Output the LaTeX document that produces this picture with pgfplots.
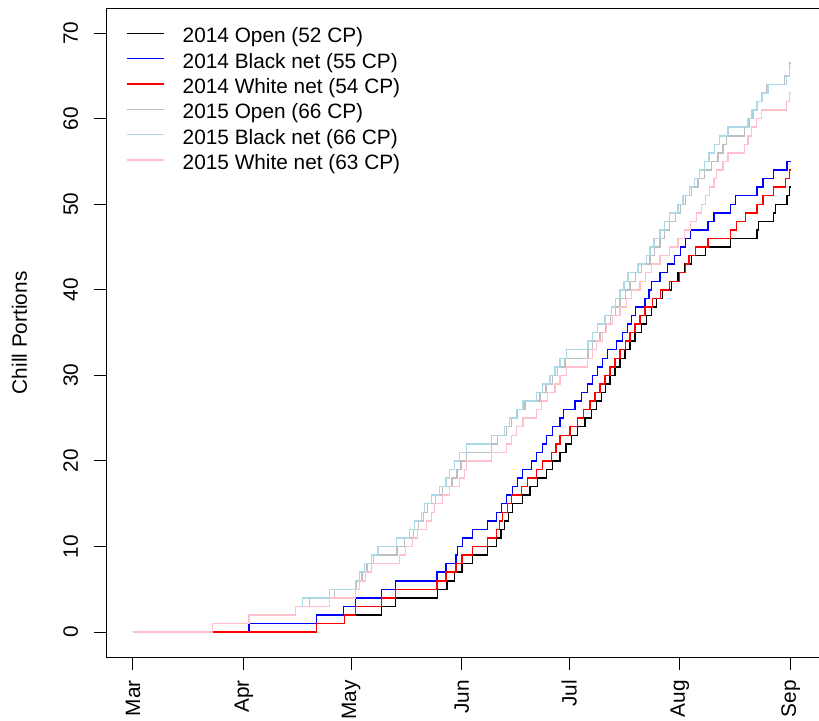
\documentclass[border=0pt]{standalone}
\usepackage{fontspec}
\setmainfont{Liberation Sans}
\usepackage{pgfplots}
\pgfplotsset{compat=1.18}
\definecolor{rgrey}{RGB}{190,190,190}
\definecolor{rlightblue}{RGB}{173,216,230}
\definecolor{rpink}{RGB}{255,192,203}
\newcommand{\ls}{\rule[-2.1pt]{0pt}{18.75pt}}
\begin{document}
\fontsize{15.6pt}{18pt}\selectfont
\begin{tikzpicture}
\useasboundingbox (-80.0pt,-47.0pt) rectangle (534.2pt,493.0pt);
\begin{axis}[
  scale only axis, width=535.2pt, height=486.8pt,
  xmin=-7.36, xmax=192.28, ymin=-2.95, ymax=72.9,
  axis line style={line width=0.75pt},
  tick align=outside, tick pos=left,
  major tick length=9.3pt,
  every tick/.style={black, line width=0.75pt},
  xtick={0,31,61,92,122,153,184},
  xticklabels={Mar,Apr,May,Jun,Jul,Aug,Sep},
  ytick={0,10,20,30,40,50,60,70},
  xticklabel style={rotate=90, anchor=east, inner sep=0pt, font=\fontsize{15.6pt}{18pt}\selectfont},
  yticklabel style={rotate=90, anchor=south, inner sep=0pt, font=\fontsize{15.6pt}{18pt}\selectfont},
  xticklabel shift=7.7pt,
  yticklabel shift=12pt,
  /pgf/number format/assume math mode=true,
  ylabel={Chill Portions},
  ylabel style={at={(axis description cs:-0.1113,0.5)}, anchor=south, inner sep=0pt, font=\fontsize{15.6pt}{18pt}\selectfont},
  legend style={draw=none, fill=none, inner sep=0pt, outer sep=0pt, row sep=0pt, column sep=0pt,
    at={(axis description cs:0,1)}, anchor=north west, xshift=14.5pt, yshift=-9.37pt,
    nodes={inner sep=0pt}, font=\fontsize{15.6pt}{18pt}\selectfont},
  legend cell align=left,
  legend image code/.code={\draw[#1] (0pt,0pt) -- (27.75pt,0pt); \path[draw=none,fill=none] (42pt,0pt) circle (0pt);},
  every axis plot/.append style={const plot, line width=1.1pt, mark=none},
]
% 2014 Open
\addplot[black] coordinates {(0,0) (51.3,1) (59.2,2) (69.5,3) (73.5,4) (85.2,5) (87.8,6) (90.0,7) (92.0,8) (95.0,9) (99.2,10) (101.7,11) (102.9,12) (104.0,13) (105.1,14) (106.2,15) (109.0,16) (111.0,17) (113.2,18) (115.7,19) (117.4,20) (119.4,21) (121.1,22) (122.7,23) (124.4,24) (126.4,25) (128.3,26) (129.7,27) (131.1,28) (132.2,29) (133.4,30) (134.8,31) (136.2,32) (137.6,33) (139.0,34) (140.4,35) (142.3,36) (143.7,37) (145.1,38) (146.5,39) (148.2,40) (150.7,41) (152.4,42) (154.3,43) (156.3,44) (160.2,45) (167.2,46) (174.5,47) (175.0,48) (179.2,49) (179.8,50) (182.9,51) (183.7,52) (184.2,52)};
% 2014 Black net
\addplot[blue] coordinates {(0,0) (32.5,1) (51.3,2) (58.9,3) (62.2,4) (69.5,5) (73.5,6) (85.0,7) (87.5,8) (90.3,9) (90.8,10) (92.2,11) (95.0,12) (99.2,13) (101.7,14) (103.1,15) (104.5,16) (106.2,17) (107.6,18) (109.0,19) (111.5,20) (112.9,21) (114.6,22) (115.7,23) (117.4,24) (119.4,25) (120.5,26) (123.6,27) (125.5,28) (127.2,29) (128.6,30) (130.0,31) (131.4,32) (132.8,33) (135.3,34) (137.0,35) (138.4,36) (139.5,37) (140.6,38) (143.2,39) (144.3,40) (145.1,41) (147.4,42) (149.6,43) (151.5,44) (153.2,45) (154.6,46) (156.0,47) (160.8,48) (162.5,49) (167.2,50) (168.6,51) (174.5,52) (176.2,53) (179.2,54) (182.9,55) (184.2,55)};
% 2014 White net
\addplot[red] coordinates {(0,0) (51.3,1) (59.2,2) (62.2,3) (69.5,4) (73.5,5) (85.0,6) (87.5,7) (90.3,8) (92.0,9) (95.0,10) (99.2,11) (101.7,12) (102.6,13) (103.4,14) (104.8,15) (105.9,16) (108.7,17) (110.4,18) (112.9,19) (114.6,20) (117.1,21) (118.3,22) (119.4,23) (122.2,24) (124.4,25) (126.1,26) (127.8,27) (129.2,28) (130.6,29) (132.0,30) (133.4,31) (134.8,32) (136.2,33) (137.8,34) (139.0,35) (140.4,36) (141.8,37) (143.2,38) (145.4,39) (147.6,40) (150.1,41) (152.9,42) (154.6,43) (155.5,44) (157.4,45) (160.8,46) (167.2,47) (168.9,48) (171.4,49) (174.5,50) (176.2,51) (179.2,52) (182.6,53) (183.7,54) (184.2,54)};
% 2015 Open
\addplot[rgrey] coordinates {(0,0) (22.2,1) (32.5,2) (45.4,3) (49.4,4) (56.4,5) (62.6,6) (64.0,7) (65.4,8) (67.3,9) (73.8,10) (76.0,11) (78.5,12) (79.9,13) (81.3,14) (82.4,15) (84.7,16) (86.6,17) (89.2,18) (90.6,19) (91.7,20) (93.3,21) (100.3,22) (102.0,23) (104.5,24) (105.9,25) (107.6,26) (109.6,27) (113.8,28) (115.5,29) (117.4,30) (118.8,31) (120.8,32) (127.3,33) (128.6,34) (130.6,35) (132.2,36) (133.6,37) (135.0,38) (136.2,39) (137.8,40) (139.0,41) (140.6,42) (142.3,43) (144.6,44) (145.9,45) (147.4,46) (148.7,47) (150.1,48) (151.8,49) (153.2,50) (154.6,51) (156.3,52) (158.0,53) (159.9,54) (161.9,55) (163.7,56) (165.0,57) (166.1,58) (171.1,59) (172.5,60) (173.4,61) (174.5,62) (175.9,63) (177.3,64) (182.3,65) (183.7,66.5) (184.2,66.5)};
% 2015 Black net
\addplot[rlightblue] coordinates {(0,0) (22.2,1) (32.5,2) (45.4,3) (47.4,4) (55.0,5) (62.2,6) (63.4,7) (64.8,8) (66.7,9) (68.5,10) (73.7,11) (77.4,12) (78.8,13) (80.7,14) (81.6,15) (83.5,16) (85.8,17) (87.5,18) (88.6,19) (90.0,20) (91.4,21) (93.3,22) (100.3,23) (104.0,24) (105.4,25) (107.3,26) (109.1,27) (112.9,28) (114.6,29) (116.6,30) (118.0,31) (119.4,32) (121.2,33) (127.3,34) (128.6,35) (130.0,36) (132.0,37) (133.8,38) (135.0,39) (136.2,40) (137.3,41) (138.5,42) (141.3,43) (143.6,44) (144.6,45) (145.7,46) (147.4,47) (148.7,48) (150.1,49) (152.5,50) (153.9,51) (155.7,52) (157.1,53) (158.5,54) (159.9,55) (161.1,56) (162.7,57) (164.1,58) (166.5,59) (172.0,60) (173.1,61) (174.5,62) (175.9,63) (177.6,64) (182.8,65) (183.7,66) (184.2,66)};
% 2015 White net
\addplot[rpink] coordinates {(0,0) (22.2,1) (32.5,2) (45.4,3) (55.0,4) (62.2,5) (63.4,6) (65.1,7) (66.7,8) (74.6,9) (76.3,10) (78.2,11) (79.6,12) (82.1,13) (83.5,14) (84.4,15) (86.6,16) (88.6,17) (91.4,18) (92.8,19) (93.3,20) (100.3,21) (104.5,22) (105.9,23) (107.3,24) (109.1,25) (112.9,26) (114.3,27) (116.0,28) (118.0,29) (119.4,30) (121.2,31) (127.2,32) (128.6,33) (129.7,34) (131.4,35) (132.5,36) (134.2,37) (136.2,38) (138.0,39) (139.5,40) (141.8,41) (143.4,42) (145.1,43) (147.4,44) (150.1,45) (152.4,46) (154.3,47) (156.0,48) (157.7,49) (159.1,50) (160.2,51) (161.3,52) (162.5,53) (163.3,54) (165.0,55) (166.5,56) (171.1,57) (172.1,58) (173.0,59) (174.4,60) (175.8,61) (182.8,62) (183.7,63) (184.2,63)};
\legend{\ls 2014 Open (52 CP), \ls 2014 Black net (55 CP), \ls 2014 White net (54 CP), \ls 2015 Open (66 CP), \ls 2015 Black net (66 CP), \ls 2015 White net (63 CP)}
\end{axis}
\end{tikzpicture}
\end{document}
